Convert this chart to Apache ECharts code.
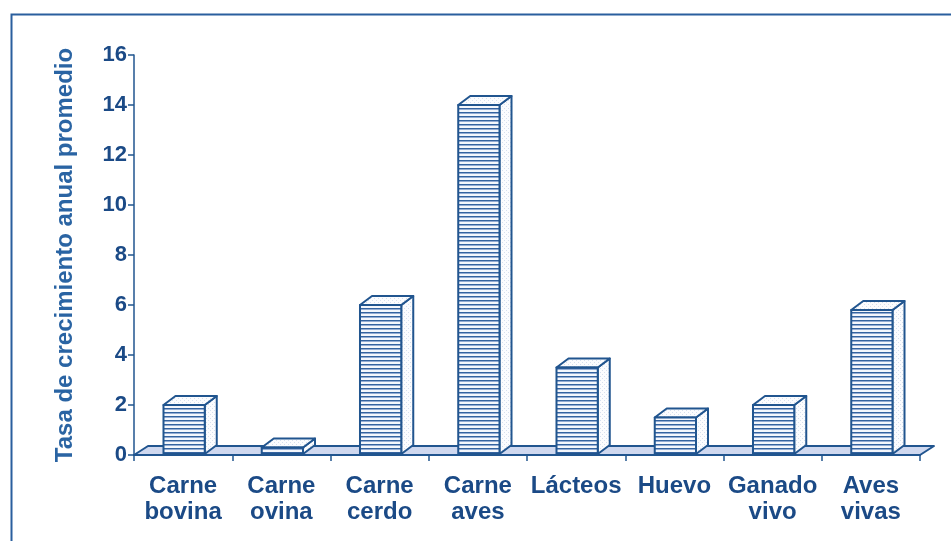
<!DOCTYPE html>
<html>
<head>
<meta charset="utf-8">
<script src="https://cdn.jsdelivr.net/npm/echarts@6/dist/echarts.min.js"></script>
<style>
html,body{margin:0;padding:0;background:#fff;}
#main{width:951px;height:541px;}
</style>
</head>
<body>
<div id="main"></div>
<script>
// ---- data ----
const categories = ['Carne\nbovina', 'Carne\novina', 'Carne\ncerdo', 'Carne\naves', 'Lácteos', 'Huevo', 'Ganado\nvivo', 'Aves\nvivas'];
const values = [2.0, 0.3, 6.0, 14.0, 3.5, 1.5, 2.0, 5.8];
const yMin = 0, yMax = 16, yStep = 2;
const yTitle = 'Tasa de crecimiento anual promedio';

// ---- styles ----
const navy = '#1b4a86';
const edge = '#21558f';
const floorFill = '#cfd8ef';
const DX = 12, DY = -9;

function makePattern(h, draw) {
  const c = document.createElement('canvas');
  c.width = 4; c.height = h;
  const ctx = c.getContext('2d');
  draw(ctx);
  return c;
}
const stripe = makePattern(4, function (ctx) {
  ctx.fillStyle = '#f4f7fc'; ctx.fillRect(0, 0, 4, 4);
  ctx.fillStyle = '#34639f'; ctx.fillRect(0, 0, 4, 1);
  ctx.fillStyle = '#93acd3'; ctx.fillRect(0, 1, 4, 1);
});
const dots = makePattern(4, function (ctx) {
  ctx.fillStyle = '#fbfcfe'; ctx.fillRect(0, 0, 4, 4);
  ctx.fillStyle = '#d6dfee'; ctx.fillRect(0, 0, 1, 1); ctx.fillRect(2, 2, 1, 1);
});

const chart = echarts.init(document.getElementById('main'), null, { renderer: 'canvas' });

chart.setOption({
  animation: false,
  backgroundColor: '#ffffff',
  graphic: [{
    type: 'rect', left: 9, top: 12, z: -10,
    shape: { width: 1000, height: 600 },
    style: { fill: 'none', stroke: '#2a5f9e', lineWidth: 2 }
  }],
  grid: { left: 134, right: 31, top: 55, bottom: 86, containLabel: false },
  xAxis: {
    type: 'category',
    data: categories,
    axisLine: { show: true, lineStyle: { color: edge, width: 2 } },
    axisTick: { show: true, length: 6, lineStyle: { color: edge, width: 1.5 } },
    axisLabel: {
      color: navy, fontSize: 24, fontWeight: 'bold',
      fontFamily: '"Liberation Sans", Arial, sans-serif',
      lineHeight: 26, margin: 18, interval: 0
    },
    z: 1
  },
  yAxis: {
    type: 'value',
    min: yMin, max: yMax, interval: yStep,
    name: yTitle,
    nameLocation: 'middle',
    nameRotate: 90,
    nameGap: 57,
    nameTextStyle: {
      color: '#2a64a3', fontSize: 24, fontWeight: 'bold',
      fontFamily: '"Liberation Sans", Arial, sans-serif'
    },
    axisLine: { show: true, lineStyle: { color: edge, width: 1.5 } },
    axisTick: { show: true, length: 6, lineStyle: { color: edge, width: 1.5 } },
    splitLine: { show: false },
    axisLabel: {
      color: navy, fontSize: 22, fontWeight: 'bold', margin: 7,
      fontFamily: '"Liberation Sans", Arial, sans-serif'
    }
  },
  series: [
    {
      type: 'custom',
      name: 'floor',
      data: [[0, 0]],
      z: 1,
      silent: true,
      renderItem: function (params, api) {
        const cs = params.coordSys;
        const base = api.coord([0, 0]);
        const x0 = cs.x, x1 = cs.x + cs.width, y0 = base[1];
        return {
          type: 'polygon',
          shape: { points: [[x0, y0], [x1, y0], [x1 + DX + 2, y0 + DY], [x0 + DX + 2, y0 + DY]] },
          style: { fill: floorFill, stroke: edge, lineWidth: 2, lineJoin: 'round' }
        };
      }
    },
    {
      type: 'custom',
      name: 'Tasa',
      data: values.map(function (v, i) { return [i, v]; }),
      encode: { x: 0, y: 1 },
      z: 3,
      renderItem: function (params, api) {
        const i = api.value(0), v = api.value(1);
        const top = api.coord([i, v]);
        const base = api.coord([i, 0]);
        const w = api.size([1, 0])[0] * 0.42;
        const x0 = top[0] - w / 2 + 1, x1 = x0 + w;
        const yt = top[1], yb = base[1] - 1;
        const st = { stroke: edge, lineWidth: 2, lineJoin: 'round' };
        return {
          type: 'group',
          children: [
            {
              type: 'polygon',
              shape: { points: [[x1, yb], [x1 + DX, yb + DY], [x1 + DX, yt + DY], [x1, yt]] },
              style: Object.assign({ fill: { image: dots, repeat: 'repeat' } }, st)
            },
            {
              type: 'polygon',
              shape: { points: [[x0, yt], [x0 + DX, yt + DY], [x1 + DX, yt + DY], [x1, yt]] },
              style: Object.assign({ fill: { image: dots, repeat: 'repeat' } }, st)
            },
            {
              type: 'rect',
              shape: { x: x0, y: yt, width: w, height: yb - yt },
              style: Object.assign({ fill: { image: stripe, repeat: 'repeat' } }, st)
            }
          ]
        };
      }
    }
  ]
});
</script>
</body>
</html>
